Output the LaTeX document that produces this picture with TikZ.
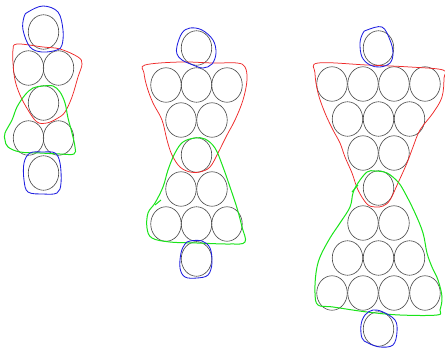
\documentclass[tikz,border=0pt]{standalone}
\usetikzlibrary{shapes.geometric}
\definecolor{skred}{RGB}{238,40,40}
\definecolor{skgreen}{RGB}{25,228,25}
\definecolor{skblue}{RGB}{30,30,225}
\begin{document}
\begin{tikzpicture}[x=1pt,y=-1pt,
  ball/.style={ellipse, draw=black!72, line width=0.6pt, minimum width=30.5pt, minimum height=34.5pt, inner sep=0pt},
  redline/.style={draw=skred, line width=0.75pt},
  greenline/.style={draw=skgreen, line width=1pt},
  blueline/.style={draw=skblue, line width=0.85pt},
  sk/.style={smooth cycle, tension=0.6}]
\useasboundingbox (0,0) rectangle (445,351);
% ---------- left figure ----------
\node[ball] (L0) at (43.5,32) {};
\node[ball] (L1a) at (28.5,68) {};
\node[ball] (L1b) at (58.5,68) {};
\node[ball] (L2) at (43.5,103) {};
\node[ball] (L3a) at (28.5,138) {};
\node[ball] (L3b) at (58.5,138) {};
\node[ball] (L4) at (43.5,173) {};
% ---------- middle figure ----------
\node[ball] (M0) at (196.5,48) {};
\node[ball] (M1a) at (166,85) {};
\node[ball] (M1b) at (196.5,85) {};
\node[ball] (M1c) at (227,85) {};
\node[ball] (M2a) at (181,120) {};
\node[ball] (M2b) at (212,120) {};
\node[ball] (M3) at (196.5,155) {};
\node[ball] (M4a) at (181,189) {};
\node[ball] (M4b) at (212,189) {};
\node[ball] (M5a) at (166,224) {};
\node[ball] (M5b) at (196.5,224) {};
\node[ball] (M5c) at (227,224) {};
\node[ball] (M6) at (196.5,259) {};
% ---------- right figure ----------
\node[ball] (R0) at (378.5,48) {};
\node[ball] (R1a) at (332,84) {};
\node[ball] (R1b) at (363,84) {};
\node[ball] (R1c) at (394,84) {};
\node[ball] (R1d) at (425,84) {};
\node[ball] (R2a) at (347.5,119) {};
\node[ball] (R2b) at (378.5,119) {};
\node[ball] (R2c) at (409.5,119) {};
\node[ball] (R3a) at (363,153) {};
\node[ball] (R3b) at (394,153) {};
\node[ball] (R4) at (378.5,188) {};
\node[ball] (R5a) at (363,223) {};
\node[ball] (R5b) at (394,223) {};
\node[ball] (R6a) at (347.5,258) {};
\node[ball] (R6b) at (378.5,258) {};
\node[ball] (R6c) at (409.5,258) {};
\node[ball] (R7a) at (332,293) {};
\node[ball] (R7b) at (363,293) {};
\node[ball] (R7c) at (394,293) {};
\node[ball] (R7d) at (425,293) {};
\node[ball] (R8) at (378.5,329) {};
% ---------- left outlines ----------
\draw[redline] plot[sk] coordinates {(17,44) (43,47) (60,49) (78,57) (82,64) (78,77) (72,97) (65,112) (58,118) (47,123) (37,122) (28,110) (20,95) (15,80) (13,63) (13,50)};
\draw[greenline] plot[sk] coordinates {(43,86) (53,86) (60,92) (65,103) (68,118) (72,133) (75,147) (74,154) (60,154) (40,153) (20,152) (8,147) (5,140) (5,133) (12,120) (17,107) (25,95) (33,88)};
\draw[blueline] plot[sk] coordinates {(28,12) (43,6) (58,12) (63,30) (62,45) (57,50) (42,52) (30,47) (23,30) (24,17)};
\draw[blueline] plot[sk] coordinates {(30,153) (43,152) (55,153) (60,163) (61,183) (57,193) (43,194) (28,192) (24,180) (24,163)};
% ---------- middle outlines ----------
\draw[redline] plot[sk] coordinates {(145,65) (180,62) (213,63) (237,63) (245,67) (247,80) (243,100) (235,120) (227,135) (218,153) (210,167) (200,172) (190,172) (180,167) (172,155) (167,140) (162,120) (153,103) (147,87) (144,73)};
\draw[greenline] plot[sk] coordinates {(195,138) (205,139) (215,148) (223,167) (230,187) (237,208) (242,227) (245,242) (230,244) (197,243) (170,242) (152,238) (147,228) (148,213) (155,203) (163,187) (168,170) (175,153) (183,142)};
\draw[greenline] (155,205) -- (161,200);
\draw[blueline] plot[sk] coordinates {(182,33) (190,28) (202,30) (213,40) (216,53) (212,64) (203,68) (193,65) (182,60) (177,54) (177,46)};
\draw[blueline] plot[sk] coordinates {(190,241) (202,241) (210,248) (212,263) (208,275) (197,278) (185,277) (180,268) (181,253) (185,244)};
% ---------- right outlines ----------
\draw[redline] plot[sk] coordinates {(318,63) (367,65) (410,67) (443,70) (444,78) (442,97) (433,113) (420,130) (413,147) (407,163) (398,183) (390,200) (383,206) (375,207) (367,204) (358,190) (352,173) (345,157) (340,143) (333,130) (325,113) (318,93) (315,73)};
\draw[greenline] plot[sk] coordinates {(367,172) (375,171) (387,173) (398,182) (405,193) (415,213) (423,233) (427,253) (432,267) (438,280) (442,297) (440,310) (437,315) (400,315) (367,312) (333,307) (318,305) (315,293) (316,273) (320,257) (330,238) (340,223) (350,207) (353,193) (358,183)};
\draw[greenline] (352,192) -- (358,185);
\draw[blueline] plot[sk] coordinates {(367,30) (382,27) (390,40) (393,53) (390,63) (380,67) (370,65) (362,57) (360,43) (363,33)};
\draw[blueline] plot[sk] coordinates {(373,310) (383,312) (395,320) (397,332) (393,345) (380,347) (368,343) (362,338) (361,325) (365,315)};
\end{tikzpicture}
\end{document}
